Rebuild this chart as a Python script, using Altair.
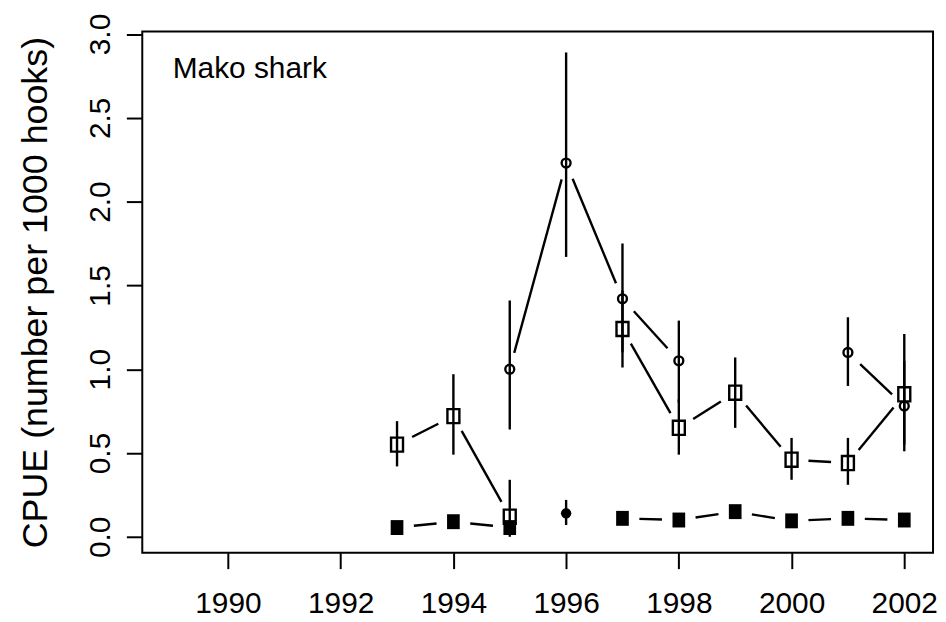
import math
import altair as alt
import pandas as pd

# ---------------- data ----------------
years = [1993, 1994, 1995, 1996, 1997, 1998, 1999, 2000, 2001, 2002]

open_circle    = [None, None, 1.00, 2.23, 1.42, 1.05, None, None, 1.10, 0.78]
open_circle_lo = [None, None, 0.64, 1.67, 1.10, 0.80, None, None, 0.90, 0.55]
open_circle_hi = [None, None, 1.41, 2.89, 1.75, 1.29, None, None, 1.31, 1.05]

open_square    = [0.55, 0.72, 0.12, None, 1.24, 0.65, 0.86, 0.46, 0.44, 0.85]
open_square_lo = [0.42, 0.49, 0.00, None, 1.01, 0.49, 0.65, 0.34, 0.31, 0.51]
open_square_hi = [0.69, 0.97, 0.34, None, 1.47, 0.82, 1.07, 0.59, 0.59, 1.21]

filled_square  = [0.055, 0.09, 0.055, None, 0.11, 0.10, 0.15, 0.095, 0.11, 0.10]

filled_circle    = [None, None, None, 0.14, None, None, None, None, None, None]
filled_circle_lo = [None, None, None, 0.07, None, None, None, None, None, None]
filled_circle_hi = [None, None, None, 0.22, None, None, None, None, None, None]

x_ticks = [1990, 1992, 1994, 1996, 1998, 2000, 2002]
y_ticks = [0.0, 0.5, 1.0, 1.5, 2.0, 2.5, 3.0]

y_title = "CPUE (number per 1000 hooks)"
panel_label = "Mako shark"
label_x = 1989.02
label_y = 2.735

# ---------------- layout ----------------
W, H = 795, 524
XDOM = [1988.48, 2002.51]
YDOM = [-0.095, 3.015]
GAP = 17  # px gap around points (R type = "b")
LW = 2.4
FONT = "Liberation Sans"
SQUARE = "M-0.85,-1L0.85,-1L0.85,1L-0.85,1Z"


def points(vals, lo=None, hi=None):
    rows = []
    for i, y in enumerate(years):
        if vals[i] is None:
            continue
        r = {"year": y, "v": vals[i]}
        if lo is not None:
            r["lo"] = lo[i]
            r["hi"] = hi[i]
        rows.append(r)
    return pd.DataFrame(rows)


def segments(vals):
    sx = W / (XDOM[1] - XDOM[0])
    sy = H / (YDOM[1] - YDOM[0])
    rows = []
    for i in range(len(years) - 1):
        a, b = vals[i], vals[i + 1]
        if a is None or b is None:
            continue
        x1, x2 = years[i], years[i + 1]
        L = math.hypot((x2 - x1) * sx, (b - a) * sy)
        if L <= 2 * GAP:
            continue
        f = GAP / L
        rows.append({
            "x": x1 + f * (x2 - x1), "x2": x2 - f * (x2 - x1),
            "y": a + f * (b - a), "y2": b - f * (b - a),
        })
    return pd.DataFrame(rows)


xscale = alt.Scale(domain=XDOM, nice=False, zero=False)
yscale = alt.Scale(domain=YDOM, nice=False, zero=False)

xaxis = alt.Axis(values=x_ticks, format="d", labelFontSize=30, labelFont=FONT,
                 labelColor="black", tickSize=16, tickWidth=2, tickColor="black",
                 domain=False, grid=False, labelPadding=20, labelFlush=False,
                 labelOverlap=False, title=None)
yaxis = alt.Axis(values=y_ticks, format=".1f", labelFontSize=30, labelFont=FONT,
                 labelColor="black", labelAngle=270, labelAlign="center",
                 labelBaseline="alphabetic", labelPadding=17, labelFlush=False,
                 labelOverlap=False, tickSize=16, tickWidth=2, tickColor="black",
                 domain=False, grid=False, title=y_title, titleFontSize=36,
                 titleFont=FONT, titleFontWeight="normal", titleColor="black",
                 titleAngle=270, titleX=-96, titleY=H / 2, titleAlign="center",
                 titleBaseline="alphabetic")

X = alt.X("x:Q", scale=xscale, axis=xaxis)
Y = alt.Y("y:Q", scale=yscale, axis=yaxis)

layers = []

# connecting segments
for vals in (open_circle, open_square, filled_square):
    seg = segments(vals)
    layers.append(
        alt.Chart(seg).mark_rule(color="black", strokeWidth=LW).encode(
            x=X, x2="x2:Q", y=Y, y2="y2:Q"
        )
    )

# error bars
for vals, lo, hi in ((open_circle, open_circle_lo, open_circle_hi),
                     (open_square, open_square_lo, open_square_hi),
                     (filled_circle, filled_circle_lo, filled_circle_hi)):
    df = points(vals, lo, hi)
    layers.append(
        alt.Chart(df).mark_rule(color="black", strokeWidth=LW).encode(
            x=alt.X("year:Q", scale=xscale, axis=xaxis),
            y=alt.Y("lo:Q", scale=yscale, axis=yaxis),
            y2="hi:Q",
        )
    )

def pts(vals, **mk):
    df = points(vals)
    return alt.Chart(df).mark_point(color="black", opacity=1, **mk).encode(
        x=alt.X("year:Q", scale=xscale, axis=xaxis),
        y=alt.Y("v:Q", scale=yscale, axis=yaxis),
    )

layers.append(pts(open_circle, shape="circle", size=80, strokeWidth=LW, filled=False))
layers.append(pts(open_square, shape=SQUARE, size=200, strokeWidth=LW, filled=False))
layers.append(pts(filled_square, shape=SQUARE, size=225, strokeWidth=0, filled=True))
layers.append(pts(filled_circle, shape="circle", size=110, strokeWidth=0, filled=True))

lab = pd.DataFrame({"x": [label_x], "y": [label_y], "t": [panel_label]})
layers.append(
    alt.Chart(lab).mark_text(align="left", baseline="alphabetic", fontSize=30,
                             font=FONT, color="black").encode(
        x=X, y=Y, text="t:N"
    )
)

chart = alt.layer(*layers).properties(
    width=W, height=H,
    autosize=alt.AutoSizeParams(type="none"),
    padding={"left": 135, "top": 22, "right": 5, "bottom": 60},
).configure(
    font=FONT,
    view=alt.ViewConfig(stroke="black", strokeWidth=2),
)

chart.save("out.html", embed_options={"renderer": "svg", "actions": False})
